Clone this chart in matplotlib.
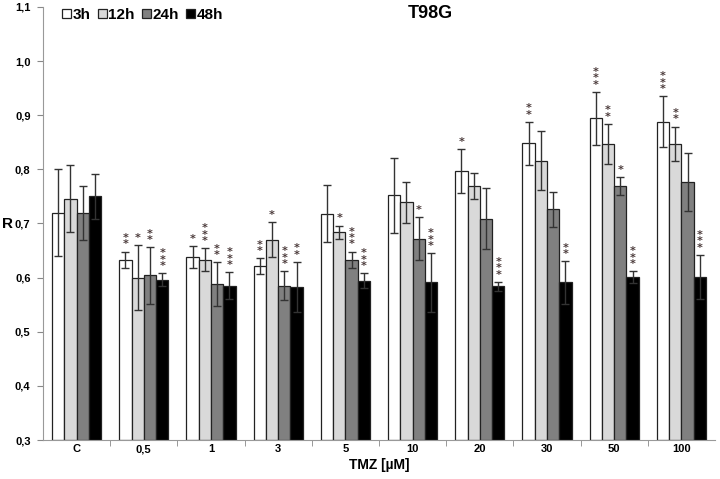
import matplotlib
matplotlib.use('Agg')
import matplotlib.pyplot as plt
import numpy as np

plt.rcParams['font.family'] = 'Liberation Sans'
plt.rcParams['font.weight'] = 'bold'

categories = ['C', '0,5', '1', '3', '5', '10', '20', '30', '50', '100']
series = ['3h', '12h', '24h', '48h']

mean_3h = [0.720, 0.633, 0.638, 0.621, 0.718, 0.752, 0.797, 0.848, 0.894, 0.888]
mean_12h = [0.746, 0.600, 0.633, 0.670, 0.684, 0.739, 0.769, 0.816, 0.847, 0.847]
mean_24h = [0.720, 0.604, 0.588, 0.585, 0.633, 0.672, 0.709, 0.726, 0.769, 0.777]
mean_48h = [0.750, 0.596, 0.585, 0.583, 0.594, 0.591, 0.584, 0.591, 0.601, 0.601]

err_3h = [0.080, 0.015, 0.021, 0.015, 0.053, 0.069, 0.040, 0.040, 0.049, 0.047]
err_12h = [0.062, 0.060, 0.021, 0.032, 0.012, 0.038, 0.024, 0.054, 0.037, 0.032]
err_24h = [0.050, 0.052, 0.040, 0.027, 0.015, 0.040, 0.057, 0.032, 0.017, 0.053]
err_48h = [0.042, 0.012, 0.025, 0.046, 0.014, 0.054, 0.008, 0.039, 0.011, 0.041]

sig_3h = ['', '**', '*', '**', '', '', '*', '**', '***', '***']
sig_12h = ['', '*', '***', '*', '*', '', '', '', '**', '**']
sig_24h = ['', '**', '**', '***', '***', '*', '', '', '*', '']
sig_48h = ['', '***', '***', '**', '***', '***', '***', '**', '***', '***']

means = [mean_3h, mean_12h, mean_24h, mean_48h]
errs = [err_3h, err_12h, err_24h, err_48h]
sigs = [sig_3h, sig_12h, sig_24h, sig_48h]
colors = ['white', '#d9d9d9', '#808080', 'black']

fig = plt.figure(figsize=(7.2, 4.79), dpi=100)
ax = fig.add_axes([43/720, 39/479, 672/720, 433/479])

x = np.arange(len(categories))
w = 0.183
for i in range(4):
    pos = x + (i - 1.5) * w
    ax.bar(pos, np.array(means[i]) - 0.3, w, bottom=0.3, color=colors[i],
           edgecolor='#222222', linewidth=0.9, label=series[i], zorder=2)
    ax.errorbar(pos, means[i], yerr=errs[i], fmt='none', ecolor='#333333',
                elinewidth=1, capsize=3, capthick=1, zorder=3)
    # significance stars, stacked vertically
    for j in range(len(categories)):
        s = sigs[i][j]
        if s:
            top = means[i][j] + errs[i][j]
            ax.text(pos[j], top + 0.004, '\n'.join(s), ha='center', va='bottom',
                    fontsize=8, color='#4a3a3a', linespacing=0.55,
                    fontfamily='DejaVu Sans', fontweight='bold')

ax.set_xlim(-0.5, 9.5)
ax.set_ylim(0.3, 1.1)
yt = np.arange(0.3, 1.11, 0.1)
ax.set_yticks(yt)
ax.set_yticklabels([f'{v:.1f}'.replace('.', ',') for v in yt], fontsize=8, fontweight='bold')
ax.set_xticks(x)
ax.set_xticklabels(categories, fontsize=8, fontweight='bold')
ax.set_xticks(np.arange(0.5, 9.5, 1), minor=True)
ax.tick_params(axis='x', which='major', length=0, pad=3)
ax.tick_params(axis='x', which='minor', length=4, color='#888888')
ax.tick_params(axis='y', length=4, color='#888888', pad=5)

for side in ['top', 'right']:
    ax.spines[side].set_visible(False)
for side in ['left', 'bottom']:
    ax.spines[side].set_color('#999999')

ax.set_xlabel('TMZ [µM]', fontsize=10, fontweight='bold', labelpad=3)
fig.text(2/720, 1 - 224/479, 'R', fontsize=11, fontweight='bold', va='center', ha='left')
fig.text(430/720, 1 - 13/479, 'T98G', fontsize=13, fontweight='bold', ha='center', va='center')

leg = ax.legend(loc='upper left', bbox_to_anchor=(0.008, 1.03), ncol=4, frameon=False,
                handlelength=0.6, handleheight=0.6, handletextpad=0.1, columnspacing=0.45,
                prop={'size': 11, 'weight': 'bold'})

fig.savefig('out.png', dpi=100)
